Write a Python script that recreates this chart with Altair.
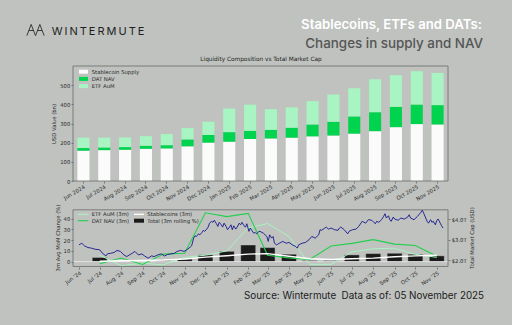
import altair as alt
import pandas as pd

# ---------------- data: top panel (USD bn) ----------------
months_top = ["Jun 2024", "Jul 2024", "Aug 2024", "Sep 2024", "Oct 2024", "Nov 2024",
              "Dec 2024", "Jan 2025", "Feb 2025", "Mar 2025", "Apr 2025", "May 2025",
              "Jun 2025", "Jul 2025", "Aug 2025", "Sep 2025", "Oct 2025", "Nov 2025"]
stablecoin_supply = [158, 161, 163, 168, 170, 181, 200, 205, 219, 222, 226, 233, 238, 247, 260, 281, 297, 295]
dat_nav = [14, 14, 14, 16, 17, 36, 40, 50, 43, 45, 52, 62, 71, 90, 99, 106, 102, 101]
etf_aum = [54, 51, 50, 50, 58, 59, 69, 123, 136, 108, 106, 122, 142, 147, 172, 165, 174, 168]
series_top = ["Stablecoin Supply", "DAT NAV", "ETF AuM"]

# ---------------- data: bottom panel (3m avg MoM %, monthly) ----------------
month_starts = ["2024-06-01", "2024-07-01", "2024-08-01", "2024-09-01", "2024-10-01", "2024-11-01",
                "2024-12-01", "2025-01-01", "2025-02-01", "2025-03-01", "2025-04-01", "2025-05-01",
                "2025-06-01", "2025-07-01", "2025-08-01", "2025-09-01", "2025-10-01", "2025-11-01"]
etf_3m = [None, 6.0, -3.8, -1.5, -3.0, 4.0, 6.0, 10.0, 31.5, 35.5, 23.5, -2.5, -2.5, 9.0, 12.0, 12.5, 6.8, 4.0]
dat_3m = [None, -2.0, 3.4, -2.7, 7.0, 7.8, 45.5, 42.0, 45.0, 6.0, 3.5, 2.0, 14.6, 17.0, 20.5, 16.3, 15.0, 5.0]
stable_3m = [None, 0.3, 0.8, 1.0, 1.5, 2.5, 4.2, 5.5, 7.0, 7.5, 5.0, 2.7, 2.0, 2.7, 3.3, 4.5, 5.4, 6.0]
total_3m = [None, 3.9, 0.3, 0.2, 1.2, 2.4, 6.3, 9.6, 15.5, 13.1, 6.9, 1.0, 1.0, 6.3, 7.5, 7.8, 6.9, 5.4]

# total market cap (USD trillion), days since 2024-06-01
mcap_days = [0, 4, 8, 13, 18, 23, 30, 34, 39, 41,
             46, 51, 55, 60, 65, 69, 77, 81, 86, 91,
             95, 100, 105, 109, 114, 119, 124, 128, 133, 138,
             142, 147, 152, 156, 161, 163, 166, 168, 170, 173,
             175, 178, 180, 182, 185, 187, 189, 192, 194, 196,
             199, 201, 203, 206, 208, 210, 213, 215, 217, 220,
             222, 224, 227, 229, 232, 234, 236, 239, 241, 243,
             246, 248, 250, 253, 255, 257, 260, 262, 267, 272,
             274, 276, 279, 281, 283, 286, 290, 295, 300, 304,
             309, 314, 316, 318, 323, 328, 333, 337, 342, 347,
             349, 351, 356, 358, 361, 365, 370, 375, 377, 379,
             384, 389, 391, 394, 396, 401, 405, 410, 415, 419,
             424, 429, 431, 434, 438, 441, 443, 445, 448, 450,
             452, 455, 457, 462, 466, 471, 476, 478, 480, 485,
             490, 495, 497, 499, 502, 504, 506, 509, 511, 513,
             516, 518, 520, 523, 525, 527]
mcap_trillion = [2.74, 2.82, 2.69, 2.61, 2.58, 2.53, 2.50, 2.33, 2.20, 2.30,
                 2.33, 2.37, 2.47, 2.42, 2.25, 2.17, 2.33, 2.42, 2.25, 2.30,
                 2.20, 2.09, 2.20, 2.17, 2.25, 2.30, 2.20, 2.27, 2.30, 2.33,
                 2.42, 2.47, 2.42, 2.50, 2.63, 2.69, 3.07, 3.18, 3.15, 3.28,
                 3.23, 3.35, 3.45, 3.40, 3.51, 3.61, 3.80, 3.89, 3.84, 3.94,
                 3.77, 3.64, 3.84, 3.72, 3.61, 3.80, 3.64, 3.48, 3.56, 3.72,
                 3.48, 3.67, 3.51, 3.61, 3.80, 3.72, 3.84, 3.67, 3.61, 3.77,
                 3.40, 3.56, 3.45, 3.31, 3.35, 3.28, 3.38, 3.40, 3.31, 3.15,
                 2.91, 3.23, 3.07, 3.15, 2.82, 2.74, 2.82, 2.91, 2.82, 2.86,
                 2.74, 2.66, 2.58, 2.74, 2.82, 2.86, 2.99, 3.15, 3.07, 3.23,
                 3.48, 3.45, 3.56, 3.61, 3.51, 3.56, 3.48, 3.45, 3.56, 3.61,
                 3.48, 3.28, 3.40, 3.45, 3.48, 3.51, 3.64, 3.89, 3.80, 3.97,
                 3.94, 3.77, 3.89, 3.84, 3.97, 4.13, 4.26, 4.05, 4.16, 3.97,
                 3.89, 4.10, 4.00, 3.94, 4.05, 4.00, 4.10, 4.21, 4.05, 3.97,
                 4.13, 4.33, 4.43, 4.29, 4.05, 3.89, 3.80, 3.97, 3.84, 3.89,
                 3.72, 3.94, 4.00, 3.80, 3.67, 3.56]

# ---------------- styling ----------------
BG = "#bfc2bf"
C_STABLE = "#fbfbfb"
C_DAT = "#00d44f"
C_ETF = "#a8f4c2"
C_DAT_LINE = "#22d04c"
C_BLUE = "#16168c"
C_BAR = "#1b1b1b"
TXT = "#2a2a2a"
FRAME = "#6a6a6a"
F = "DejaVu Sans"
W, H = 375, 201
TOP_H = 115
BOT_Y0, BOT_Y1 = 142, 201
TOP_DOM = [0, 600]
LEFT_DOM = [-4.5, 48.3]
RIGHT_DOM = [1.66, 4.54]

ax = dict(labelFont=F, labelFontSize=5.3, labelColor=TXT, tickColor="#444", tickSize=2,
          tickWidth=0.6, domain=False, grid=False, titleFont=F, titleFontSize=5.3,
          titleFontWeight="normal", titleColor=TXT, labelPadding=1.2, titlePadding=3)

one = alt.Data(values=[{}])


def text_at(txt, x, y, size, color, font=F, weight="normal", align="left", baseline="alphabetic"):
    return alt.Chart(one).mark_text(text=txt, fontSize=size, color=color, font=font,
                                    fontWeight=weight, align=align, baseline=baseline).encode(
        x=alt.value(x), y=alt.value(y))


def rect_at(x0, x1, y0, y1, color):
    return alt.Chart(one).mark_rect(color=color).encode(
        x=alt.value(x0), x2=alt.value(x1), y=alt.value(y0), y2=alt.value(y1))


def line_at(x0, x1, y, color, sw):
    return alt.Chart(one).mark_rule(color=color, strokeWidth=sw).encode(
        x=alt.value(x0), x2=alt.value(x1), y=alt.value(y))


# ---------------- top panel ----------------
rows = []
for i, m in enumerate(months_top):
    for k, (name, vals) in enumerate(zip(series_top, [stablecoin_supply, dat_nav, etf_aum])):
        rows.append({"month": m, "series": name, "value": vals[i], "ord": k})
top_df = pd.DataFrame(rows)

top_bars = alt.Chart(top_df).mark_bar().encode(
    x=alt.X("month:N", sort=months_top,
            scale=alt.Scale(paddingInner=0.42, paddingOuter=0.21),
            axis=alt.Axis(orient="bottom", offset=-(H - TOP_H), labelAngle=330, title=None, **ax)),
    y=alt.Y("value:Q", stack="zero", scale=alt.Scale(domain=TOP_DOM, range=[TOP_H, 0]),
            axis=alt.Axis(orient="left", title="USD Value (bn)", values=[0, 100, 200, 300, 400, 500], **ax)),
    color=alt.Color("series:N", scale=alt.Scale(domain=series_top, range=[C_STABLE, C_DAT, C_ETF]),
                    legend=None),
    order=alt.Order("ord:Q"),
)
top_frame = alt.Chart(one).mark_rect(fillOpacity=0, stroke=FRAME, strokeWidth=0.8).encode(
    x=alt.value(0), x2=alt.value(W), y=alt.datum(TOP_DOM[1]), y2=alt.datum(TOP_DOM[0]))

top_legend = []
for j, (name, col) in enumerate(zip(series_top, [C_STABLE, C_DAT, C_ETF])):
    yc = 5.7 + j * 7.2
    top_legend.append(rect_at(6, 15, yc - 2, yc + 2, col))
    top_legend.append(text_at(name, 18.7, yc, 5.3, TXT, baseline="middle"))

top_panel = alt.layer(top_bars, top_frame, *top_legend)

# ---------------- bottom panel ----------------
bot = pd.DataFrame({"date": pd.to_datetime(month_starts), "etf": etf_3m, "dat": dat_3m,
                    "stable": stable_3m, "total": total_3m})
mcap = pd.DataFrame({"date": pd.Timestamp("2024-06-01") + pd.to_timedelta(mcap_days, unit="D"),
                     "mcap": mcap_trillion})

xs = alt.Scale(domain=[alt.DateTime(year=2024, month=6, date=1), alt.DateTime(year=2025, month=11, date=10)],
               range=[1, W])
x_bot = alt.X("date:T", scale=xs,
              axis=alt.Axis(orient="bottom", format="%b '%y", tickCount={"interval": "month", "step": 1},
                            labelAngle=325, title=None, **ax))
ys = alt.Scale(domain=LEFT_DOM, range=[BOT_Y1, BOT_Y0])

bot_bars = alt.Chart(bot.dropna(subset=["total"])).mark_bar(
    size=15, color=C_BAR, stroke="#cfcfcf", strokeWidth=0.4).encode(
    x=x_bot,
    y=alt.Y("total:Q", scale=ys,
            axis=alt.Axis(orient="left", title="3m Avg MoM Change (%)", values=[0, 10, 20, 30, 40], **ax)),
)
zero_rule = alt.Chart(one).mark_rule(color="#ececec", strokeWidth=0.8).encode(
    x=alt.value(0), x2=alt.value(W), y=alt.datum(0))


def series_line(col, color, sw):
    return alt.Chart(bot.dropna(subset=[col])).mark_line(color=color, strokeWidth=sw).encode(
        x="date:T", y=alt.Y(f"{col}:Q"))


bot_frame = alt.Chart(one).mark_rect(fillOpacity=0, stroke=FRAME, strokeWidth=0.8).encode(
    x=alt.value(0), x2=alt.value(W), y=alt.datum(LEFT_DOM[1]), y2=alt.datum(LEFT_DOM[0]))

r1, r2 = 148.3, 154.7
bot_legend = [
    line_at(4.7, 15.3, r1, C_ETF, 1.0), text_at("ETF AuM (3m)", 18.7, r1, 5.3, TXT, baseline="middle"),
    line_at(4.7, 15.3, r2, C_DAT_LINE, 1.1), text_at("DAT NAV (3m)", 18.7, r2, 5.3, TXT, baseline="middle"),
    line_at(61, 71, r1, "#ffffff", 1.3), text_at("Stablecoins (3m)", 74.3, r1, 5.3, TXT, baseline="middle"),
    rect_at(61, 71, r2 - 2, r2 + 2, C_BAR), text_at("Total (3m rolling %)", 74.3, r2, 5.3, TXT, baseline="middle"),
]

bot_left = alt.layer(bot_bars, zero_rule,
                     series_line("etf", C_ETF, 1.0),
                     series_line("dat", C_DAT_LINE, 1.1),
                     series_line("stable", "#ffffff", 1.4),
                     bot_frame, *bot_legend)

mcap_line = alt.Chart(mcap).mark_line(color=C_BLUE, strokeWidth=0.9).encode(
    x="date:T",
    y=alt.Y("mcap:Q", scale=alt.Scale(domain=RIGHT_DOM, range=[BOT_Y1, BOT_Y0]),
            axis=alt.Axis(orient="right", values=[2, 3, 4], title="Total Market Cap (USD)",
                          labelExpr="'$' + format(datum.value, '.1f') + 'T'",
                          titleAngle=270, titleBaseline="top", **ax)),
)

bottom_panel = alt.layer(bot_left, mcap_line).resolve_scale(y="independent")

# ---------------- header / footer ----------------
logo = alt.Chart(one).mark_point(
    shape="M-1,0.6L-0.5,-0.7L0,0.6L0.5,-0.7L1,0.6M-0.75,0L-0.25,0M0.25,0L0.75,0",
    filled=False, size=300, color="#2a2a2a", strokeWidth=0.9, opacity=1).encode(
    x=alt.value(-37.5), y=alt.value(-35.5))
brand = text_at("W\u2009I\u2009N\u2009T\u2009E\u2009R\u2009M\u2009U\u2009T\u2009E", -21.3, -31, 11, "#1e1e1e",
                font="Inter")
title1 = text_at("Stablecoins, ETFs and DATs:", 409, -37, 13.2, "#ffffff", font="Inter", weight=600, align="right")
title2 = text_at("Changes in supply and NAV", 410, -17.7, 13.4, "#555555", font="Inter", weight=500, align="right")
subtitle = text_at("Liquidity Composition vs Total Market Cap", 188, -5, 5.8, "#222222", align="center")
source = text_at("Source: Wintermute\u00a0\u00a0Data as of: 05 November 2025", 411, 233, 9.8, "#1c1c1c",
                 font="Inter", align="right")

chart = alt.layer(top_panel, bottom_panel, logo, brand, title1, title2, subtitle, source).resolve_scale(
    x="independent", y="independent"
).properties(
    width=W, height=H,
    autosize=alt.AutoSizeParams(type="none"),
    padding={"left": 73, "top": 66, "right": 64, "bottom": 58},
    background=BG,
).configure_view(stroke=None)

chart.save("out.html", embed_options={"renderer": "svg", "actions": False})
